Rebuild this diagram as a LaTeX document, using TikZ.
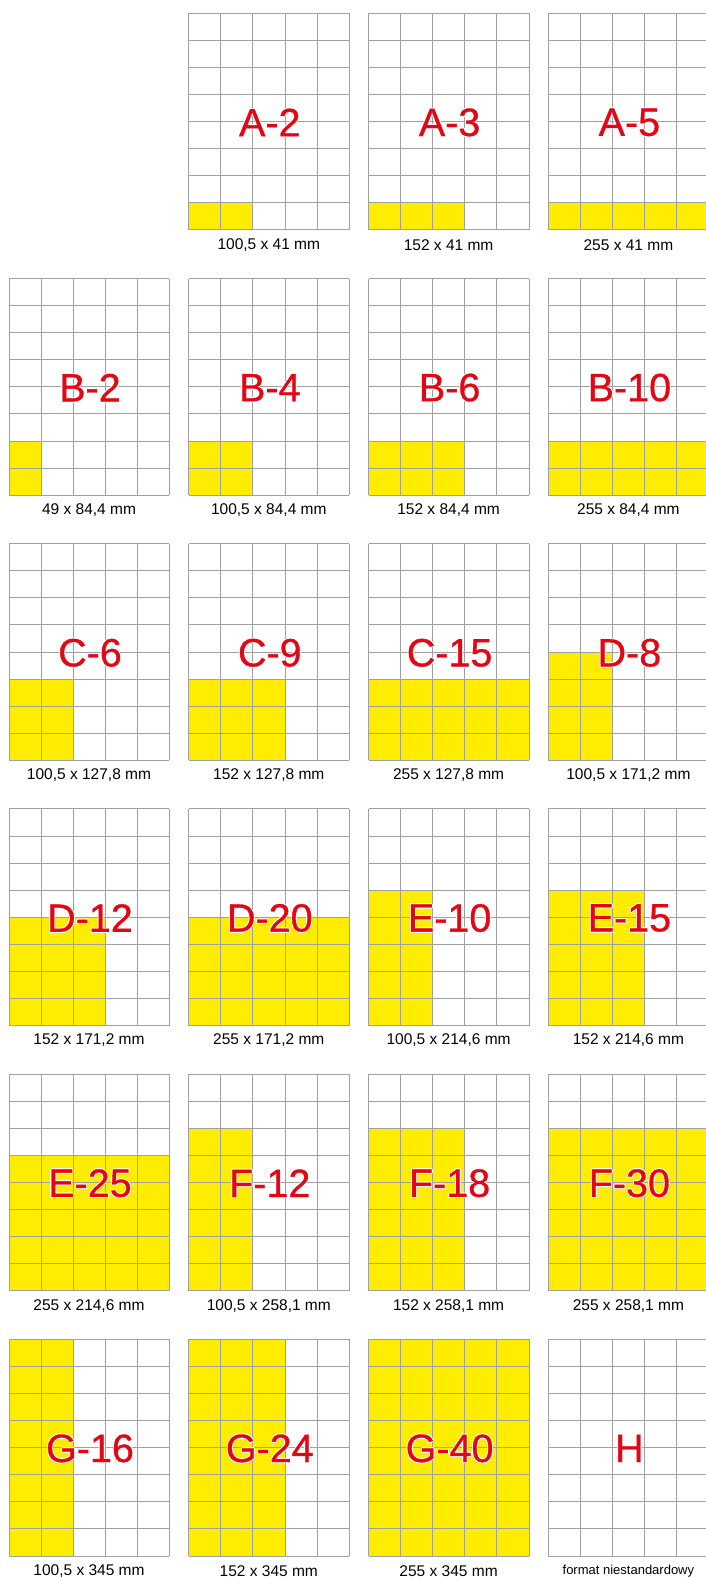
\documentclass[tikz,border=0pt]{standalone}
\usepackage{fontspec}
\setmainfont{Liberation Sans}
\newfontfamily\codefont[FakeBold=0.8]{Liberation Sans}
\usepackage{contour}
\contourlength{0.8pt}
\definecolor{gridgray}{HTML}{A0A0A0}
\definecolor{sheetyellow}{HTML}{FFED00}
\definecolor{codered}{HTML}{E30613}

\begin{document}
\begin{tikzpicture}[x=1pt, y=-1pt,
    cellfill/.style={fill=sheetyellow},
    gridline/.style={draw=gridgray, line width=0.9pt},
    codelabel/.style={text=codered, font=\codefont\fontsize{39.5}{39.5}\selectfont, inner sep=0pt},
    sizelabel/.style={inner sep=0pt}
]
\clip (0,0) rectangle (706,1577);
% kolumna/wiersz/zolte kolumny/zolte wiersze/kod/format/czcionka
\foreach \c/\r/\fc/\fr/\code/\size/\fs in {
    2/1/2/1/A-2/{100,5 x 41 mm}/15.5,
    3/1/3/1/A-3/{152 x 41 mm}/15.5,
    4/1/5/1/A-5/{255 x 41 mm}/15.5,
    1/2/1/2/B-2/{49 x 84,4 mm}/15.5,
    2/2/2/2/B-4/{100,5 x 84,4 mm}/15.5,
    3/2/3/2/B-6/{152 x 84,4 mm}/15.5,
    4/2/5/2/B-10/{255 x 84,4 mm}/15.5,
    1/3/2/3/C-6/{100,5 x 127,8 mm}/15.5,
    2/3/3/3/C-9/{152 x 127,8 mm}/15.5,
    3/3/5/3/C-15/{255 x 127,8 mm}/15.5,
    4/3/2/4/D-8/{100,5 x 171,2 mm}/15.5,
    1/4/3/4/D-12/{152 x 171,2 mm}/15.5,
    2/4/5/4/D-20/{255 x 171,2 mm}/15.5,
    3/4/2/5/E-10/{100,5 x 214,6 mm}/15.5,
    4/4/3/5/E-15/{152 x 214,6 mm}/15.5,
    1/5/5/5/E-25/{255 x 214,6 mm}/15.5,
    2/5/2/6/F-12/{100,5 x 258,1 mm}/15.5,
    3/5/3/6/F-18/{152 x 258,1 mm}/15.5,
    4/5/5/6/F-30/{255 x 258,1 mm}/15.5,
    1/6/2/8/G-16/{100,5 x 345 mm}/15.5,
    2/6/3/8/G-24/{152 x 345 mm}/15.5,
    3/6/5/8/G-40/{255 x 345 mm}/15.5,
    4/6/0/0/H/{format niestandardowy}/13}
{
    \pgfmathsetmacro{\gx}{9+179.8*(\c-1)}
    \pgfmathsetmacro{\gy}{13.3+265.2*(\r-1)}
    % zolte pola
    \ifnum\fc>0
        \fill[cellfill] (\gx, \gy+216.6-27.08*\fr) rectangle ++(32.07*\fc, 27.08*\fr);
    \fi
    % siatka 5 x 8
    \foreach \i in {0,...,5}
        \draw[gridline] (\gx+32.07*\i, \gy) -- ++(0, 216.6);
    \foreach \j in {0,...,8}
        \draw[gridline] (\gx, \gy+27.08*\j) -- ++(160.35, 0);
    \node[codelabel] (code-\c-\r) at (\gx+81, \gy+109.5) {\contour{white}{\code}};
    \node[sizelabel, font=\fontsize{\fs}{\fs}\selectfont] (size-\c-\r) at (\gx+80, \gy+231.6) {\size};
}
\end{tikzpicture}
\end{document}
